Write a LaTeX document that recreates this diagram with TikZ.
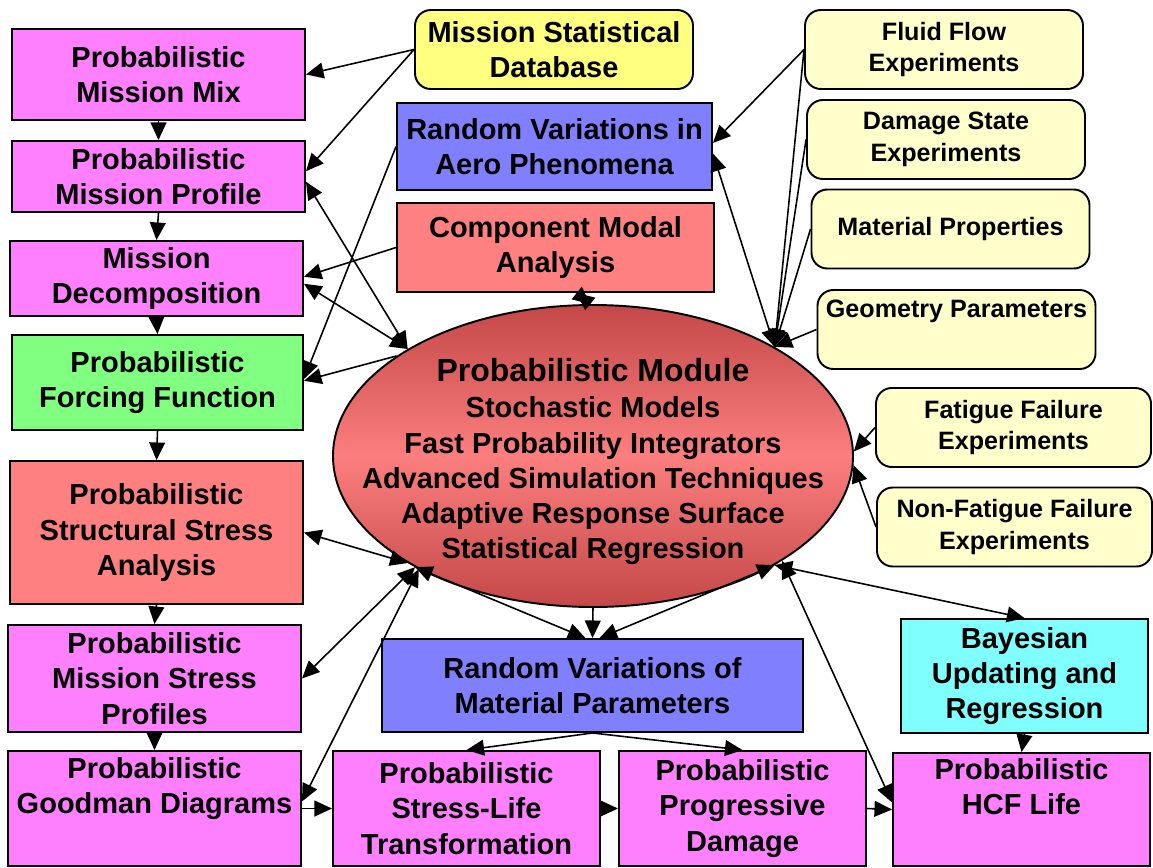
\documentclass[tikz,border=0pt]{standalone}
\usepackage{fontspec}
\setmainfont{Liberation Sans}
\usetikzlibrary{arrows.meta,shapes.geometric}
\definecolor{pinkfill}{HTML}{FF80FF}
\definecolor{greenfill}{HTML}{80FF80}
\definecolor{salmonfill}{HTML}{FF8080}
\definecolor{bluefill}{HTML}{8080FF}
\definecolor{cyanfill}{HTML}{80FFFF}
\definecolor{dbfill}{HTML}{FFFF80}
\definecolor{expfill}{HTML}{FFFFCC}
\definecolor{ellouter}{RGB}{196,72,72}
\definecolor{ellinner}{RGB}{252,126,126}

\begin{document}
\begin{tikzpicture}[
  every node/.style={font=\bfseries\fontsize{16.5}{20}\selectfont, align=center, inner sep=0pt},
  box/.style={draw, line width=1.1pt, rectangle},
  pink/.style={box, fill=pinkfill},
  greenbox/.style={box, fill=greenfill},
  salmon/.style={box, fill=salmonfill},
  bluebox/.style={box, fill=bluefill},
  cyanbox/.style={box, fill=cyanfill},
  dbbox/.style={box, fill=dbfill, rounded corners=9pt},
  expbox/.style={box, fill=expfill, rounded corners=9pt, minimum width=5.56cm, minimum height=1.58cm,
    font=\bfseries\fontsize{14.3}{18}\selectfont},
  link/.style={line width=0.9pt, -{Triangle[length=10pt,width=9pt]}},
  twoway/.style={line width=0.9pt, {Triangle[length=10pt,width=9pt]}-{Triangle[length=10pt,width=9pt]}}]
  \useasboundingbox (0,0) rectangle (23.06,-17.34);

  \node[pink, minimum width=5.86cm, minimum height=1.82cm] (mix) at (3.17,-1.49) {Probabilistic\\Mission Mix};
  \node[pink, minimum width=5.86cm, minimum height=1.42cm] (profile) at (3.17,-3.53) {Probabilistic\\Mission Profile};
  \node[pink, minimum width=5.86cm, minimum height=1.5cm] (decomp) at (3.13,-5.57) {Mission\\Decomposition};
  \node[greenbox, minimum width=5.82cm, minimum height=1.9cm] (forcing) at (3.15,-7.65) {Probabilistic\\Forcing Function};
  \node[salmon, minimum width=5.86cm, minimum height=2.86cm] (structural) at (3.13,-10.65) {Probabilistic\\Structural Stress\\Analysis};
  \node[pink, minimum width=5.86cm, minimum height=2.14cm] (mstress) at (3.09,-13.57) {Probabilistic\\Mission Stress\\Profiles};
  \node[pink, minimum width=5.86cm, minimum height=2.3cm] (goodman) at (3.09,-16.17) {Probabilistic\\Goodman Diagrams\\\strut};
  \node[pink, minimum width=5.34cm, minimum height=2.3cm] (sltrans) at (9.33,-16.17) {Probabilistic\\Stress-Life\\Transformation};
  \node[pink, minimum width=4.94cm, minimum height=2.3cm] (progdmg) at (14.85,-16.17) {Probabilistic\\Progressive\\Damage};
  \node[pink, minimum width=5.14cm, minimum height=2.26cm] (hcf) at (20.43,-16.19) {Probabilistic\\HCF Life\\\strut};
  \node[cyanbox, minimum width=4.94cm, minimum height=2.28cm] (bayes) at (20.49,-13.52) {Bayesian\\Updating and\\Regression};
  \node[bluebox, minimum width=8.42cm, minimum height=1.86cm] (matvar) at (11.85,-13.71) {Random Variations of\\Material Parameters};
  \node[bluebox, minimum width=6.3cm, minimum height=1.74cm] (aero) at (11.09,-2.93) {Random Variations in\\Aero Phenomena};
  \node[salmon, minimum width=6.34cm, minimum height=1.78cm] (modal) at (11.11,-4.95) {Component Modal\\Analysis};
  \node[dbbox, minimum width=5.56cm, minimum height=1.58cm] (database) at (11.08,-0.99) {Mission Statistical\\Database};

  \node[expbox] (fluid) at (18.88,-0.99) {Fluid Flow\\Experiments};
  \node[expbox] (damage) at (18.92,-2.79) {Damage State\\Experiments};
  \node[expbox] (matprop) at (19.01,-4.58) {Material Properties};
  \node[expbox] (geom) at (19.13,-6.59) {Geometry Parameters\\\strut};
  \node[expbox, minimum width=5.5cm] (fatigue) at (20.27,-8.55) {Fatigue Failure\\Experiments};
  \node[expbox, minimum width=5.5cm] (nonfat) at (20.29,-10.54) {Non-Fatigue Failure\\Experiments};

  \node[ellipse, draw, line width=1.1pt, minimum width=10.4cm, minimum height=6.04cm,
    top color=ellouter, bottom color=ellouter, middle color=ellinner] (module) at (11.86,-9.12) {};
  \node (moduletext) at ([yshift=-3pt]module.center)
    {{\fontsize{18.2}{22}\selectfont Probabilistic Module}\\[1pt]
     Stochastic Models\\Fast Probability Integrators\\Advanced Simulation Techniques\\
     Adaptive Response Surface\\Statistical Regression};

  \draw[link] (mix.south) -- (profile.north);
  \draw[link] (profile.south) -- (decomp.north);
  \draw[link] (decomp.south) -- (forcing.north);
  \draw[link] (forcing.south) -- (structural.north);
  \draw[link] (structural.south) -- (mstress.north);
  \draw[link] (mstress.south) -- (goodman.north);
  \draw[link] (goodman.east) -- (sltrans.west);
  \draw[link] (sltrans.east) -- (progdmg.west);
  \draw[link] (progdmg.east) -- (hcf.west);
  \draw[link] (matvar.south) -- (sltrans.north);
  \draw[link] (matvar.south) -- (progdmg.north);
  \draw[link] (bayes.south) -- (hcf.north);

  \draw[link] (database.west) -- (mix.east);
  \draw[link] (database.west) -- ([yshift=3pt]profile.east);
  \draw[twoway] ([yshift=-3pt]profile.east) -- (module.150);
  \draw[link] (modal.west) -- ([yshift=1pt]decomp.east);
  \draw[twoway] ([yshift=-3pt]decomp.east) -- (module.150);
  \draw[link] (aero.west) -- ([yshift=2pt]forcing.east);
  \draw[link] (module.153) -- ([yshift=1pt]forcing.east);
  \draw[twoway] ([xshift=12pt]modal.south) -- (module.91);

  \draw[link] (fluid.west) -- ([yshift=2pt]aero.east);
  \draw[twoway] ([yshift=-4pt]aero.east) -- (module.31);
  \draw[link] (fluid.west) -- (module.31);
  \draw[link] (damage.west) -- (module.31);
  \draw[link] (matprop.west) -- (module.31);
  \draw[link] (geom.west) -- (module.31);
  \draw[link] (fatigue.west) -- (module.1);
  \draw[link] (nonfat.west) -- (module.358);

  \draw[twoway] (module.329) -- (bayes.north);
  \draw[twoway] (module.331) -- ([yshift=4pt]hcf.west);
  \draw[twoway] (module.329) -- ([xshift=4pt]matvar.north);
  \draw[twoway] (module.212) -- ([xshift=-4pt]matvar.north);
  \draw[link] (module.south) -- (matvar.north);

  \draw[twoway] (module.210) -- (structural.east);
  \draw[twoway] (module.212) -- (mstress.east);
  \draw[twoway] (module.213) -- ([yshift=4pt]goodman.east);
\end{tikzpicture}
\end{document}
